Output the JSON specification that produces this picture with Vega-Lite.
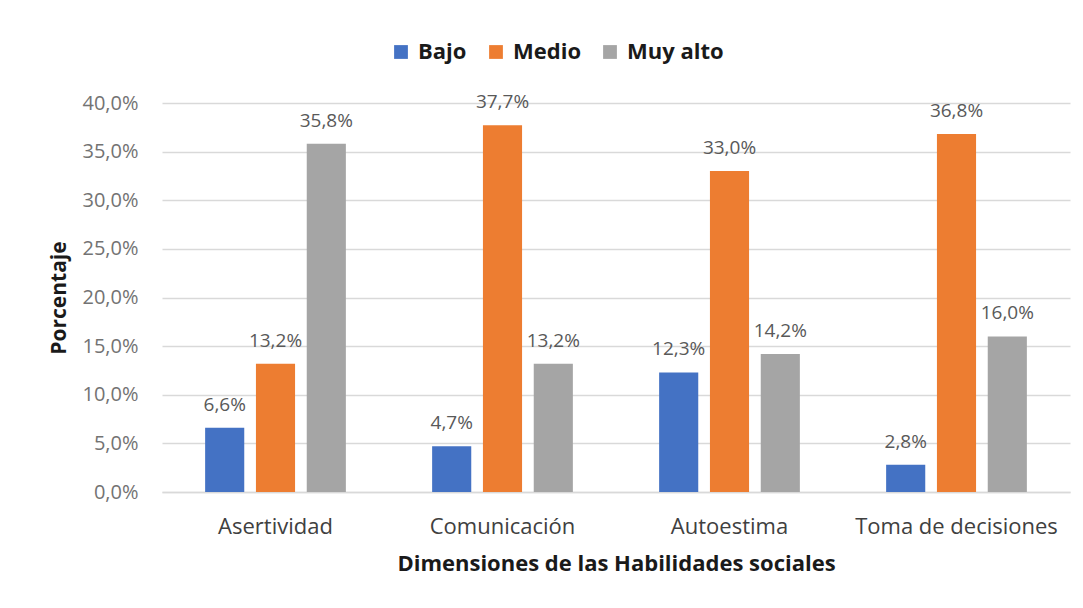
{
  "$schema": "https://vega.github.io/schema/vega-lite/v6.json",
  "width": 908,
  "height": 389,
  "autosize": {"type": "none"},
  "padding": {"left": 162, "top": 103, "right": 13, "bottom": 116},
  "background": "white",
  "config": {
    "locale": {"number": {"decimal": ",", "thousands": ".", "grouping": [3], "currency": ["", " €"]}},
    "view": {"stroke": null},
    "font": "Open Sans"
  },
  "data": {
    "values": [
      {"dim": "Asertividad", "nivel": "Bajo", "valor": 0.066},
      {"dim": "Asertividad", "nivel": "Medio", "valor": 0.132},
      {"dim": "Asertividad", "nivel": "Muy alto", "valor": 0.358},
      {"dim": "Comunicación", "nivel": "Bajo", "valor": 0.047},
      {"dim": "Comunicación", "nivel": "Medio", "valor": 0.377},
      {"dim": "Comunicación", "nivel": "Muy alto", "valor": 0.132},
      {"dim": "Autoestima", "nivel": "Bajo", "valor": 0.123},
      {"dim": "Autoestima", "nivel": "Medio", "valor": 0.33},
      {"dim": "Autoestima", "nivel": "Muy alto", "valor": 0.142},
      {"dim": "Toma de decisiones", "nivel": "Bajo", "valor": 0.028},
      {"dim": "Toma de decisiones", "nivel": "Medio", "valor": 0.368},
      {"dim": "Toma de decisiones", "nivel": "Muy alto", "valor": 0.16}
    ]
  },
  "encoding": {
    "x": {
      "field": "dim", "type": "nominal", "sort": null,
      "scale": {"paddingInner": 0.38, "paddingOuter": 0.19},
      "axis": {
        "title": "Dimensiones de las Habilidades sociales",
        "titleFont": "Open Sans", "titleFontSize": 22, "titleFontWeight": "bold", "titleColor": "#1a1a1a",
        "titlePadding": 16,
        "labelAngle": 0, "labelFontSize": 22, "labelColor": "#404040", "labelPadding": 24,
        "labelOverlap": false, "labelLimit": 400,
        "ticks": false, "domainColor": "#d9d9d9", "domainWidth": 1.5
      }
    },
    "xOffset": {"field": "nivel", "type": "nominal", "sort": ["Bajo", "Medio", "Muy alto"], "scale": {"paddingInner": 0.23}},
    "y": {
      "field": "valor", "type": "quantitative",
      "scale": {"domain": [0, 0.4]},
      "axis": {
        "title": "Porcentaje", "format": ".1%", "values": [0, 0.05, 0.1, 0.15, 0.2, 0.25, 0.3, 0.35, 0.4],
        "labelOverlap": false,
        "titleFontSize": 21, "titleFontWeight": "bold", "titleColor": "#1a1a1a", "titlePadding": 12,
        "labelFontSize": 20, "labelColor": "#737373", "labelPadding": 24,
        "ticks": false, "domain": false, "gridColor": "#d9d9d9", "gridWidth": 1.5
      }
    }
  },
  "layer": [
    {
      "mark": {"type": "bar"},
      "encoding": {
        "color": {
          "field": "nivel", "type": "nominal", "sort": ["Bajo", "Medio", "Muy alto"],
          "scale": {"domain": ["Bajo", "Medio", "Muy alto"], "range": ["#4472c4", "#ed7d31", "#a5a5a5"]},
          "legend": {
            "title": null, "orient": "none", "direction": "horizontal",
            "legendX": 228, "legendY": -62,
            "symbolType": "square", "symbolSize": 190, "symbolStrokeWidth": 0,
            "labelFontSize": 22, "labelFontWeight": "bold", "labelColor": "#1a1a1a",
            "columnPadding": 18, "labelOffset": 6
          }
        }
      }
    },
    {
      "mark": {"type": "text", "baseline": "bottom", "dy": -13, "fontSize": 19, "color": "#595959"},
      "encoding": {
        "text": {"field": "valor", "type": "quantitative", "format": ".1%"}
      }
    }
  ]
}
